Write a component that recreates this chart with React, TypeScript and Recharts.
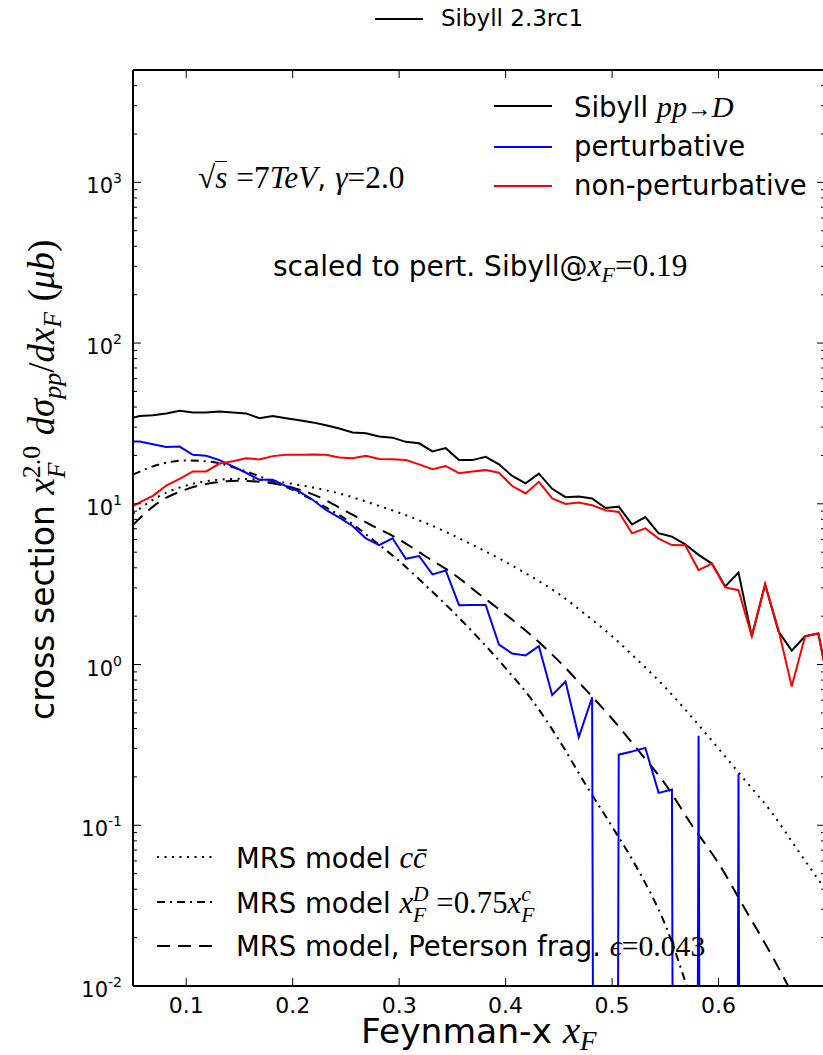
import React from 'react';
import { LineChart, Line, XAxis, YAxis } from 'recharts';

// Sibyll 2.3rc1 histogram: bin centres in x_F (first and last bins lie just outside the frame)
const BIN_X = [
  0.04375, 0.05625, 0.06875, 0.08125, 0.09375, 0.10625, 0.11875, 0.13125, 0.14375, 0.15625,
  0.16875, 0.18125, 0.19375, 0.20625, 0.21875, 0.23125, 0.24375, 0.25625, 0.26875, 0.28125,
  0.29375, 0.30625, 0.31875, 0.33125, 0.34375, 0.35625, 0.36875, 0.38125, 0.39375, 0.40625,
  0.41875, 0.43125, 0.44375, 0.45625, 0.46875, 0.48125, 0.49375, 0.50625, 0.51875, 0.53125,
  0.54375, 0.55625, 0.56875, 0.58125, 0.59375, 0.60625, 0.61875, 0.63125, 0.64375, 0.65625,
  0.66875, 0.68125, 0.69375, 0.70625,
];

// Sibyll pp -> D, all charm
const SIBYLL_TOTAL = [
  33.5, 35.2, 35.6, 36.5, 37.9, 37.0, 37.0, 37.5, 37.0, 36.5,
  34.1, 35.2, 34.1, 33.1, 32.1, 30.8, 29.4, 27.8, 27.5, 26.2,
  25.8, 24.3, 23.8, 21.2, 22.2, 18.7, 18.7, 19.6, 17.6, 14.9,
  13.4, 15.4, 12.4, 11.0, 11.1, 10.8, 9.42, 9.6, 7.45, 8.27,
  6.55, 6.25, 5.6, 4.81, 4.25, 3.06, 3.74, 1.5, 3.15, 1.61,
  1.22, 1.5, 1.56, 0.6,
];

// perturbative component (0 = empty bin)
const SIBYLL_PERT = [
  24.4, 24.4, 23.5, 22.6, 22.7, 20.2, 19.9, 18.7, 17.1, 15.6,
  14.1, 14.1, 12.9, 11.9, 10.6, 9.16, 8.2, 7.28, 6.1, 5.54,
  6.1, 4.55, 4.73, 3.64, 3.85, 2.34, 2.35, 2.35, 1.33, 1.17,
  1.14, 1.3, 0.645, 0.785, 0.354, 0.625, 0, 0.275, 0.288, 0.303,
  0.159, 0.167, 0, 0.36, 0, 0, 0.208, 0, 0, 0,
  0, 0, 0, 0,
];

// non-perturbative component
const SIBYLL_NONPERT = [
  9.2, 10.2, 11.2, 13.0, 14.3, 15.9, 15.9, 17.8, 18.4, 19.2,
  18.9, 19.8, 20.2, 20.2, 20.3, 20.2, 19.4, 19.2, 19.9, 19.0,
  18.9, 18.7, 17.6, 16.4, 17.2, 15.5, 15.9, 16.2, 15.6, 12.9,
  11.6, 13.7, 10.8, 9.97, 10.2, 9.79, 9.12, 8.9, 6.55, 7.03,
  6.07, 5.54, 5.52, 3.87, 4.25, 3.02, 2.9, 1.5, 3.15, 1.65,
  0.73, 1.5, 1.56, 0.6,
];

// MRS model curves, sampled in x_F
const MODEL_X = [
  0.05, 0.075, 0.1, 0.125, 0.15, 0.175, 0.2, 0.225, 0.25, 0.275,
  0.3, 0.325, 0.35, 0.375, 0.4, 0.425, 0.45, 0.475, 0.5, 0.525,
  0.55, 0.575, 0.6, 0.625, 0.65, 0.675, 0.7,
];
const MRS_CCBAR = [
  8.7, 11.2, 13.0, 14.0, 14.3, 14.0, 13.3, 12.4, 11.3, 10.0,
  8.8, 7.6, 6.4, 5.3, 4.35, 3.5, 2.75, 2.05, 1.5, 1.05,
  0.72, 0.47, 0.3, 0.19, 0.12, 0.069, 0.04,
];
const MRS_SCALED = [
  15.2, 17.6, 18.6, 18.2, 16.4, 14.3, 12.2, 10.0, 8.0, 6.0,
  4.4, 3.1, 2.15, 1.45, 0.95, 0.6, 0.34, 0.18, 0.098, 0.052,
  0.024, 0.008, 0.0025, 0.0006, 0.0001, 0.00002, 0.000003,
];
const MRS_PETERSON = [
  7.4, 10.3, 12.3, 13.5, 13.9, 13.6, 12.6, 11.0, 9.0, 7.3,
  6.0, 4.7, 3.7, 2.75, 2.05, 1.5, 1.05, 0.7, 0.46, 0.29,
  0.18, 0.1, 0.058, 0.03, 0.0155, 0.0075, 0.0033,
];

const X_TICKS = [0.1, 0.2, 0.3, 0.4, 0.5, 0.6];
const X_LABELS = ['0.1', '0.2', '0.3', '0.4', '0.5', '0.6'];
const Y_MAJOR = [0.01, 0.1, 1, 10, 100, 1000];
const Y_EXP = ['-2', '-1', '0', '1', '2', '3'];
const Y_MINOR = [
  0.02, 0.03, 0.04, 0.05, 0.06, 0.07, 0.08, 0.09,
  0.2, 0.3, 0.4, 0.5, 0.6, 0.7, 0.8, 0.9,
  2, 3, 4, 5, 6, 7, 8, 9,
  20, 30, 40, 50, 60, 70, 80, 90,
  200, 300, 400, 500, 600, 700, 800, 900,
  2000, 3000, 4000,
];
const Y_TICKS = [...Y_MAJOR, ...Y_MINOR];

const SANS = '"DejaVu Sans", sans-serif';
const SERIF = '"Liberation Serif", "DejaVu Serif", serif';
const DOTTED = '2 5.5';
const DASHDOT = '8 5 2 5';
const DASHED = '13 8';

// empty bins go far below the log axis and get clipped, like matplotlib does
const LOG_FLOOR = 1e-30;
const toPoints = (xs: number[], ys: number[]) =>
  xs.map((x, i) => ({ x, y: ys[i] > 0 ? ys[i] : LOG_FLOOR }));

const totalPts = toPoints(BIN_X, SIBYLL_TOTAL);
const pertPts = toPoints(BIN_X, SIBYLL_PERT);
const nonPertPts = toPoints(BIN_X, SIBYLL_NONPERT);
const ccbarPts = toPoints(MODEL_X, MRS_CCBAR);
const scaledPts = toPoints(MODEL_X, MRS_SCALED);
const petersonPts = toPoints(MODEL_X, MRS_PETERSON);

const AXIS_LINE = { stroke: '#000', strokeWidth: 2 };

function BottomTick(props: any) {
  const { x, y, payload } = props;
  const i = X_TICKS.indexOf(payload.value);
  return (
    <g>
      <line x1={x} x2={x} y1={y} y2={y - 8} stroke="#000" strokeWidth={1} />
      <text x={x} y={y + 27} textAnchor="middle" fontSize={22} fontFamily={SANS} fill="#000">
        {X_LABELS[i]}
      </text>
    </g>
  );
}

function TopTick(props: any) {
  const { x, y } = props;
  return <line x1={x} x2={x} y1={y} y2={y + 8} stroke="#000" strokeWidth={1} />;
}

function LeftTick(props: any) {
  const { x, y, payload } = props;
  const i = Y_MAJOR.indexOf(payload.value);
  const len = i >= 0 ? 8 : 4;
  return (
    <g>
      <line x1={x} x2={x + len} y1={y} y2={y} stroke="#000" strokeWidth={1} />
      {i >= 0 && (
        <text x={x - 11} y={y + 11} textAnchor="end" fontSize={21} fontFamily={SANS} fill="#000">
          10
          <tspan dy={-10} fontSize={14}>
            {Y_EXP[i]}
          </tspan>
        </text>
      )}
    </g>
  );
}

function RightTick(props: any) {
  const { x, y, payload } = props;
  const len = Y_MAJOR.includes(payload.value) ? 8 : 4;
  return <line x1={x} x2={x - len} y1={y} y2={y} stroke="#000" strokeWidth={1} />;
}

// inline math helpers
type MProps = { children: React.ReactNode; s?: number };
const Mi = ({ children, s = 1.12 }: MProps) => (
  <span style={{ fontFamily: SERIF, fontStyle: 'italic', fontSize: `${s}em` }}>{children}</span>
);
const Mr = ({ children, s = 1.12 }: MProps) => (
  <span style={{ fontFamily: SERIF, fontSize: `${s}em` }}>{children}</span>
);
const Sub = ({ children }: { children: React.ReactNode }) => (
  <span style={{ fontSize: '0.7em', position: 'relative', top: '0.3em' }}>{children}</span>
);
const SupSub = ({ sup, sub }: { sup: React.ReactNode; sub: React.ReactNode }) => (
  <span
    style={{
      display: 'inline-flex',
      flexDirection: 'column',
      fontSize: '0.7em',
      lineHeight: 0.95,
      position: 'relative',
      top: '-0.6em',
    }}
  >
    <span>{sup}</span>
    <span>{sub}</span>
  </span>
);

function Txt({
  left,
  baseline,
  size,
  children,
}: {
  left: number;
  baseline: number;
  size: number;
  children: React.ReactNode;
}) {
  return (
    <div
      style={{
        position: 'absolute',
        left,
        top: baseline - 0.846 * size,
        fontSize: size,
        lineHeight: 1,
        whiteSpace: 'nowrap',
        color: '#000',
      }}
    >
      {children}
    </div>
  );
}

function Handle({ left, y, width, color, dash }: { left: number; y: number; width: number; color: string; dash?: string }) {
  return (
    <svg style={{ position: 'absolute', left, top: y - 3 }} width={width} height={6}>
      <line x1={0} x2={width} y1={3} y2={3} stroke={color} strokeWidth={2} strokeDasharray={dash} />
    </svg>
  );
}

export default function App() {
  return (
    <div
      style={{
        position: 'absolute',
        left: 0,
        top: 0,
        width: 823,
        height: 1055,
        overflow: 'hidden',
        background: '#fff',
        fontFamily: SANS,
      }}
    >
      <LineChart width={900} height={1055} margin={{ top: 40, right: 0, bottom: 29, left: 0 }}>
        <XAxis
          xAxisId="x"
          dataKey="x"
          type="number"
          domain={[0.05, 0.7]}
          allowDataOverflow
          ticks={X_TICKS}
          interval={0}
          height={40}
          tickSize={0}
          tickMargin={0}
          tickLine={false}
          axisLine={AXIS_LINE}
          tick={<BottomTick />}
        />
        <XAxis
          xAxisId="top"
          orientation="top"
          dataKey="x"
          type="number"
          domain={[0.05, 0.7]}
          allowDataOverflow
          ticks={X_TICKS}
          interval={0}
          height={30}
          tickSize={0}
          tickMargin={0}
          tickLine={false}
          axisLine={AXIS_LINE}
          tick={<TopTick />}
        />
        <YAxis
          yAxisId="y"
          type="number"
          scale="log"
          domain={[0.01, 5000]}
          allowDataOverflow
          ticks={Y_TICKS}
          interval={0}
          width={133}
          tickSize={0}
          tickMargin={0}
          tickLine={false}
          axisLine={AXIS_LINE}
          tick={<LeftTick />}
        />
        <YAxis
          yAxisId="right"
          orientation="right"
          type="number"
          scale="log"
          domain={[0.01, 5000]}
          allowDataOverflow
          ticks={Y_TICKS}
          interval={0}
          width={75}
          tickSize={0}
          tickMargin={0}
          tickLine={false}
          axisLine={AXIS_LINE}
          tick={<RightTick />}
        />

        <Line xAxisId="x" yAxisId="y" data={ccbarPts} dataKey="y" type="monotone" stroke="#000" strokeWidth={2} strokeDasharray={DOTTED} dot={false} isAnimationActive={false} />
        <Line xAxisId="x" yAxisId="y" data={scaledPts} dataKey="y" type="monotone" stroke="#000" strokeWidth={2} strokeDasharray={DASHDOT} dot={false} isAnimationActive={false} />
        <Line xAxisId="x" yAxisId="y" data={petersonPts} dataKey="y" type="monotone" stroke="#000" strokeWidth={2} strokeDasharray={DASHED} dot={false} isAnimationActive={false} />
        <Line xAxisId="x" yAxisId="y" data={totalPts} dataKey="y" type="linear" stroke="#000" strokeWidth={2} dot={false} isAnimationActive={false} />
        <Line xAxisId="x" yAxisId="y" data={pertPts} dataKey="y" type="linear" stroke="#0000ff" strokeWidth={2} dot={false} isAnimationActive={false} />
        <Line xAxisId="x" yAxisId="y" data={nonPertPts} dataKey="y" type="linear" stroke="#ff0000" strokeWidth={2} dot={false} isAnimationActive={false} />
      </LineChart>

      {/* figure legend */}
      <Handle left={375} y={18.5} width={48} color="#000" />
      <Txt left={441} baseline={26.7} size={23}>Sibyll 2.3rc1</Txt>

      {/* Sibyll components legend */}
      <Handle left={494} y={105.7} width={58} color="#000" />
      <Txt left={574} baseline={115} size={27.5}>
        Sibyll <Mi s={1.1}>pp</Mi>
        <Mr s={0.9}>→</Mr>
        <Mi s={1.1}>D</Mi>
      </Txt>
      <Handle left={494} y={147.3} width={58} color="#0000ff" />
      <Txt left={574} baseline={156} size={27.5}>perturbative</Txt>
      <Handle left={494} y={186} width={58} color="#ff0000" />
      <Txt left={574} baseline={195} size={27.5}>non-perturbative</Txt>

      <Txt left={198} baseline={186} size={28}>
        <Mr>√</Mr>
        <span style={{ borderTop: '1.5px solid #000' }}>
          <Mi>s</Mi>
        </span>{' '}
        <Mr>=7</Mr>
        <Mi>TeV</Mi>, <Mi>γ</Mi>
        <Mr>=2.0</Mr>
      </Txt>

      <Txt left={273} baseline={274} size={28}>
        scaled to pert. Sibyll@<Mi>x</Mi>
        <Sub>
          <Mi>F</Mi>
        </Sub>
        <Mr>=0.19</Mr>
      </Txt>

      {/* MRS model legend */}
      <Handle left={157} y={856.7} width={56} color="#000" dash={DOTTED} />
      <Txt left={236} baseline={866} size={27.5}>
        MRS model <Mi>cc̄</Mi>
      </Txt>
      <Handle left={157} y={901.7} width={56} color="#000" dash={DASHDOT} />
      <Txt left={236} baseline={911} size={27.5}>
        MRS model <Mi>x</Mi>
        <SupSub sup={<Mi>D</Mi>} sub={<Mi>F</Mi>} />
        <Mr> =0.75</Mr>
        <Mi>x</Mi>
        <SupSub sup={<Mi>c</Mi>} sub={<Mi>F</Mi>} />
      </Txt>
      <Handle left={157} y={946} width={56} color="#000" dash={DASHED} />
      <Txt left={236} baseline={955} size={27.5}>
        MRS model, Peterson frag. <Mi s={1.08}>ϵ</Mi>
        <Mr s={1.08}>=0.043</Mr>
      </Txt>

      {/* axis titles */}
      <Txt left={361} baseline={1040} size={34.5}>
        Feynman-x <Mi>x</Mi>
        <Sub>
          <Mi>F</Mi>
        </Sub>
      </Txt>
      <div
        style={{
          position: 'absolute',
          left: 24,
          top: 720,
          transformOrigin: '0 0',
          transform: 'rotate(-90deg)',
          fontSize: 33,
          lineHeight: 1,
          whiteSpace: 'nowrap',
          color: '#000',
        }}
      >
        cross section <Mi>x</Mi>
        <SupSub sup={<Mr>2.0</Mr>} sub={<Mi>F</Mi>} /> <Mi>dσ</Mi>
        <Sub>
          <Mi>pp</Mi>
        </Sub>
        <Mr>/</Mr>
        <Mi>dx</Mi>
        <Sub>
          <Mi>F</Mi>
        </Sub>{' '}
        <Mr>(</Mr>
        <Mi>μb</Mi>
        <Mr>)</Mr>
      </div>
    </div>
  );
}
